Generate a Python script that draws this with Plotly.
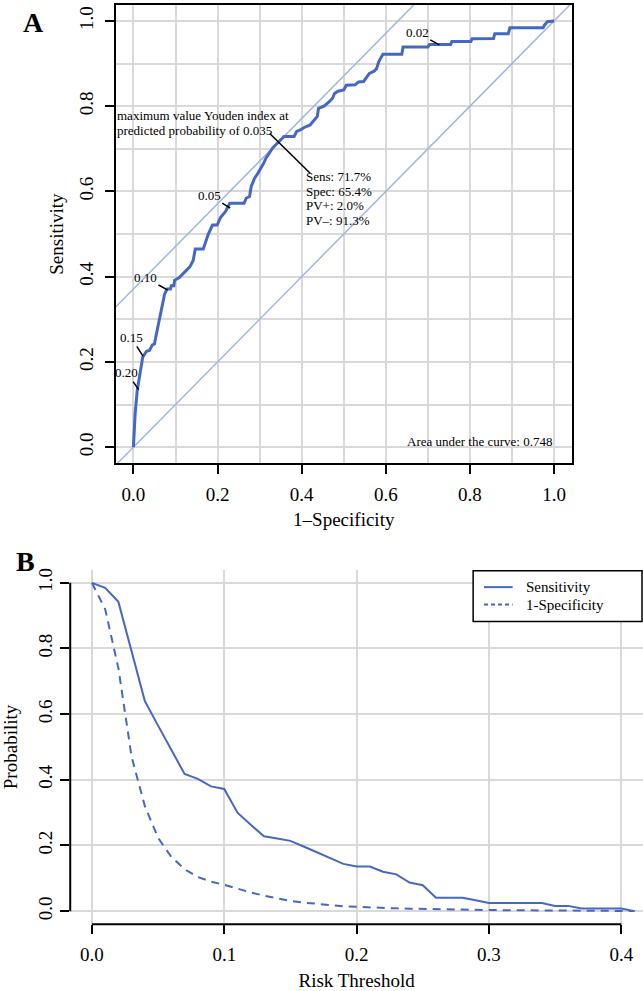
import plotly.graph_objects as go

# ---------------- Panel A: ROC curve data ----------------
roc_fpr = [0.000, 0.004, 0.009, 0.014, 0.017, 0.022, 0.031, 0.038, 0.045, 0.050,
           0.053, 0.059, 0.064, 0.069, 0.074, 0.080, 0.088, 0.090, 0.096, 0.098,
           0.109, 0.117, 0.125, 0.134, 0.142, 0.147, 0.166, 0.172, 0.178, 0.188,
           0.199, 0.207, 0.219, 0.229, 0.263, 0.268, 0.276, 0.280, 0.288, 0.296,
           0.304, 0.310, 0.315, 0.323, 0.331, 0.339, 0.346, 0.358, 0.382, 0.388,
           0.398, 0.406, 0.420, 0.430, 0.437, 0.440, 0.453, 0.465, 0.473, 0.478,
           0.486, 0.500, 0.506, 0.527, 0.535, 0.547, 0.553, 0.561, 0.572, 0.578,
           0.583, 0.587, 0.593, 0.638, 0.641, 0.700, 0.704, 0.754, 0.757, 0.802,
           0.805, 0.856, 0.859, 0.891, 0.895, 0.974, 0.977, 0.984, 1.000]
roc_tpr = [0.000, 0.078, 0.133, 0.164, 0.188, 0.211, 0.225, 0.227, 0.240, 0.242,
           0.258, 0.289, 0.313, 0.336, 0.359, 0.371, 0.371, 0.379, 0.379, 0.392,
           0.398, 0.406, 0.414, 0.423, 0.438, 0.465, 0.465, 0.484, 0.500, 0.521,
           0.521, 0.539, 0.553, 0.572, 0.572, 0.584, 0.588, 0.612, 0.631, 0.643,
           0.655, 0.667, 0.678, 0.690, 0.702, 0.710, 0.717, 0.729, 0.729, 0.741,
           0.745, 0.750, 0.756, 0.768, 0.776, 0.795, 0.800, 0.810, 0.818, 0.830,
           0.835, 0.838, 0.849, 0.850, 0.857, 0.858, 0.867, 0.877, 0.882, 0.888,
           0.904, 0.910, 0.922, 0.922, 0.939, 0.939, 0.945, 0.945, 0.952, 0.952,
           0.958, 0.959, 0.970, 0.970, 0.984, 0.984, 0.990, 0.998, 1.000]

thr_labels = ["0.20", "0.15", "0.10", "0.05", "0.02"]
thr_fpr = [0.0125, 0.023, 0.081, 0.230, 0.727]
thr_tpr = [0.135, 0.213, 0.369, 0.561, 0.944]

youden_threshold = "0.035"
sens_pct = 71.7
spec_pct = 65.4
ppv_pct = 2.0
npv_pct = 91.3
auc_value = 0.748

roc_ticks = [0.0, 0.2, 0.4, 0.6, 0.8, 1.0]

# ---------------- Panel B: threshold curves ----------------
risk_threshold = [0.00, 0.01, 0.02, 0.03, 0.04, 0.05, 0.06, 0.07, 0.08, 0.09,
                  0.10, 0.11, 0.12, 0.13, 0.14, 0.15, 0.16, 0.17, 0.18, 0.19,
                  0.20, 0.21, 0.22, 0.23, 0.24, 0.25, 0.26, 0.27, 0.28, 0.29,
                  0.30, 0.31, 0.32, 0.33, 0.34, 0.35, 0.36, 0.37, 0.38, 0.39,
                  0.40, 0.41]
sensitivity = [1.000, 0.985, 0.942, 0.790, 0.640, 0.565, 0.490, 0.418, 0.403, 0.380,
               0.372, 0.300, 0.263, 0.228, 0.221, 0.214, 0.197, 0.180, 0.162, 0.144,
               0.136, 0.136, 0.120, 0.112, 0.087, 0.079, 0.041, 0.041, 0.041, 0.033,
               0.025, 0.025, 0.025, 0.025, 0.025, 0.016, 0.016, 0.008, 0.008, 0.008,
               0.008, 0.000]
one_minus_specificity = [1.000, 0.920, 0.740, 0.470, 0.320, 0.223, 0.165, 0.128, 0.104, 0.090,
                         0.080, 0.068, 0.057, 0.047, 0.038, 0.031, 0.026, 0.022, 0.018, 0.015,
                         0.013, 0.011, 0.0095, 0.0085, 0.0075, 0.0065, 0.006, 0.005, 0.0045, 0.004,
                         0.0035, 0.003, 0.0027, 0.0024, 0.002, 0.0018, 0.0015, 0.0012, 0.001, 0.0008,
                         0.0005, 0.0003]
legend_names = ["Sensitivity", "1-Specificity"]

prob_ticks = [0.0, 0.2, 0.4, 0.6, 0.8, 1.0]
risk_ticks = [0.0, 0.1, 0.2, 0.3, 0.4]

# ---------------- styles ----------------
W, H = 643, 991
FONT = "Liberation Serif, Times New Roman, serif"
BLUE = "#4468C4"
LIGHTBLUE = "#A2B5E1"
GRID = "#D9D9D9"
DASH = "8px,6px"

# pixel layout
A_left, A_right, A_top, A_bot = 109, 571, 3, 463
B_left, B_right, B_top, B_bot = 63, 643, 570, 926
A_xrange = [-0.0423, 1.0423]
A_yrange = [-0.0374, 1.0374]
B_xrange = [-0.0164, (B_right - 85) / 1340.0]
B_yrange = [-0.04, 1.04]

fig = go.Figure()

# Diagonal reference lines (clipped to the plot box)
youden_J = (sens_pct + spec_pct) / 100.0 - 1.0
diag_x = [A_xrange[0], A_xrange[1]]
fig.add_trace(go.Scatter(x=diag_x, y=diag_x, mode="lines",
                         line=dict(color=LIGHTBLUE, width=1.5),
                         showlegend=False, hoverinfo="skip", xaxis="x", yaxis="y"))
fig.add_trace(go.Scatter(x=diag_x, y=[v + youden_J for v in diag_x], mode="lines",
                         line=dict(color=LIGHTBLUE, width=1.5),
                         showlegend=False, hoverinfo="skip", xaxis="x", yaxis="y"))

# ROC curve
fig.add_trace(go.Scatter(x=roc_fpr, y=roc_tpr, mode="lines",
                         line=dict(color=BLUE, width=3),
                         showlegend=False, xaxis="x", yaxis="y"))

# Panel B curves
fig.add_trace(go.Scatter(x=risk_threshold, y=sensitivity, mode="lines", name=legend_names[0],
                         line=dict(color=BLUE, width=2), showlegend=False,
                         xaxis="x2", yaxis="y2"))
fig.add_trace(go.Scatter(x=risk_threshold, y=one_minus_specificity, mode="lines",
                         name=legend_names[1], showlegend=False,
                         line=dict(color=BLUE, width=2, dash=DASH),
                         xaxis="x2", yaxis="y2"))

annotations = []
shapes = []

# threshold labels on ROC curve
thr_offsets = [(-12, -17), (-12, -19), (-22, -12), (-21, -13), (-22, -12)]
for lab, fx, ty, (oax, oay) in zip(thr_labels, thr_fpr, thr_tpr, thr_offsets):
    annotations.append(dict(x=fx, y=ty, xref="x", yref="y", text=lab,
                            showarrow=True, arrowhead=0, arrowwidth=1.5,
                            arrowcolor="black", ax=oax, ay=oay, standoff=0,
                            font=dict(family=FONT, size=13, color="black")))

# Youden point annotation
yx = 1 - spec_pct / 100.0
yy = sens_pct / 100.0
px_x = (A_xrange[1] - A_xrange[0]) / (A_right - A_left)
px_y = (A_yrange[1] - A_yrange[0]) / (A_bot - A_top)
shapes.append(dict(type="line", xref="x", yref="y",
                   x0=yx - 9.4 * px_x, y0=yy + 8.1 * px_y,
                   x1=yx + 31.6 * px_x, y1=yy - 31.9 * px_y,
                   line=dict(color="black", width=1.5)))
upper_lines = ["maximum value Youden index at",
               "predicted probability of " + youden_threshold]
for i, t in enumerate(upper_lines):
    annotations.append(dict(x=yx, y=yy, xref="x", yref="y", text=t, showarrow=False,
                            xanchor="left", yanchor="middle",
                            xshift=-164, yshift=26 - 14.7 * i,
                            font=dict(family=FONT, size=13, color="black")))
lower_lines = ["Sens: %.1f%%" % sens_pct, "Spec: %.1f%%" % spec_pct,
               "PV+: %.1f%%" % ppv_pct, "PV\u2013: %.1f%%" % npv_pct]
for i, t in enumerate(lower_lines):
    annotations.append(dict(x=yx, y=yy, xref="x", yref="y", text=t, showarrow=False,
                            xanchor="left", yanchor="middle",
                            xshift=25, yshift=-35 - 14.7 * i,
                            font=dict(family=FONT, size=13, color="black")))

annotations.append(dict(x=1.0, y=0.0, xref="x", yref="y",
                        text="Area under the curve: %.3f" % auc_value,
                        showarrow=False, xanchor="right", yanchor="middle", yshift=6,
                        font=dict(family=FONT, size=13, color="black")))

# Panel letters
annotations.append(dict(x=26 / W, y=1 - 21 / H, xref="paper", yref="paper", text="<b>A</b>",
                        showarrow=False, xanchor="center", yanchor="middle",
                        font=dict(family=FONT, size=28, color="black")))
annotations.append(dict(x=18 / W, y=1 - 562 / H, xref="paper", yref="paper", text="<b>B</b>",
                        showarrow=False, xanchor="center", yanchor="middle",
                        font=dict(family=FONT, size=28, color="black")))

# Panel B axis lines (R style: only span the tick range)
shapes.append(dict(type="line", xref="x2", yref="y2 domain",
                   x0=risk_ticks[0], x1=risk_ticks[-1], y0=0, y1=0,
                   line=dict(color="black", width=2)))
shapes.append(dict(type="line", xref="x2 domain", yref="y2",
                   x0=0, x1=0, y0=prob_ticks[0], y1=prob_ticks[-1],
                   line=dict(color="black", width=2)))

# Panel B legend box (R style, top-right)
LG_l, LG_r, LG_t, LG_b = 471, 642, 571, 622
shapes.append(dict(type="rect", xref="paper", yref="paper",
                   x0=LG_l / W, x1=LG_r / W, y0=1 - LG_b / H, y1=1 - LG_t / H,
                   line=dict(color="black", width=1.5), fillcolor="white", layer="above"))
legend_rows = [587.5, 605]
legend_dash = ["solid", "4px,3px"]
for name, ry, dsh in zip(legend_names, legend_rows, legend_dash):
    shapes.append(dict(type="line", xref="paper", yref="paper",
                       x0=482 / W, x1=511 / W, y0=1 - ry / H, y1=1 - ry / H,
                       line=dict(color=BLUE, width=2, dash=dsh), layer="above"))
    annotations.append(dict(x=522 / W, y=1 - ry / H, xref="paper", yref="paper",
                            text=name, showarrow=False, xanchor="left", yanchor="middle",
                            font=dict(family=FONT, size=15, color="black")))

tickfont = dict(family=FONT, size=19, color="black")
titlefont = dict(family=FONT, size=19, color="black")

fig.update_layout(
    width=W, height=H,
    margin=dict(l=0, r=0, t=0, b=0),
    paper_bgcolor="white", plot_bgcolor="white",
    font=dict(family=FONT, color="black"),
    showlegend=False,
    xaxis=dict(domain=[A_left / W, A_right / W], range=A_xrange, anchor="y",
               tickvals=roc_ticks, tickformat=".1f",
               ticks="outside", ticklen=9, tickwidth=1.5, tickcolor="black",
               ticklabelstandoff=4,
               showline=True, mirror=True, linecolor="black", linewidth=2,
               showgrid=True, gridcolor=GRID, gridwidth=1.5, zeroline=False,
               minor=dict(dtick=0.1, tick0=0, showgrid=True, gridcolor=GRID,
                          gridwidth=1.5, ticks=""),
               tickfont=tickfont,
               title=dict(text="1\u2013Specificity", font=titlefont, standoff=9)),
    yaxis=dict(domain=[1 - A_bot / H, 1 - A_top / H], range=A_yrange, anchor="x",
               tickvals=roc_ticks, tickformat=".1f", tickangle=-90,
               ticks="outside", ticklen=9, tickwidth=1.5, tickcolor="black",
               ticklabelstandoff=4,
               showline=True, mirror=True, linecolor="black", linewidth=2,
               showgrid=True, gridcolor=GRID, gridwidth=1.5, zeroline=False,
               minor=dict(dtick=0.1, tick0=0, showgrid=True, gridcolor=GRID,
                          gridwidth=1.5, ticks=""),
               tickfont=tickfont,
               title=dict(text="Sensitivity", font=titlefont, standoff=7)),
    xaxis2=dict(domain=[B_left / W, B_right / W], range=B_xrange, anchor="y2",
                tickvals=risk_ticks, tickformat=".1f",
                ticks="outside", ticklen=9, tickwidth=1.5, tickcolor="black",
                ticklabelstandoff=4,
                showline=False, showgrid=True, gridcolor=GRID, gridwidth=1.5,
                zeroline=False, tickfont=tickfont,
                title=dict(text="Risk Threshold", font=titlefont, standoff=13)),
    yaxis2=dict(domain=[1 - B_bot / H, 1 - B_top / H], range=B_yrange, anchor="x2",
                tickvals=prob_ticks, tickformat=".1f", tickangle=-90,
                ticks="outside", ticklen=9, tickwidth=1.5, tickcolor="black",
                ticklabelstandoff=1,
                showline=False, showgrid=True, gridcolor=GRID, gridwidth=1.5,
                zeroline=False, tickfont=tickfont,
                title=dict(text="Probability", font=titlefont, standoff=21)),
    annotations=annotations,
    shapes=shapes,
)

fig.write_html("out.html", config={"displayModeBar": False},
               post_script="document.body.style.margin='0px';")
